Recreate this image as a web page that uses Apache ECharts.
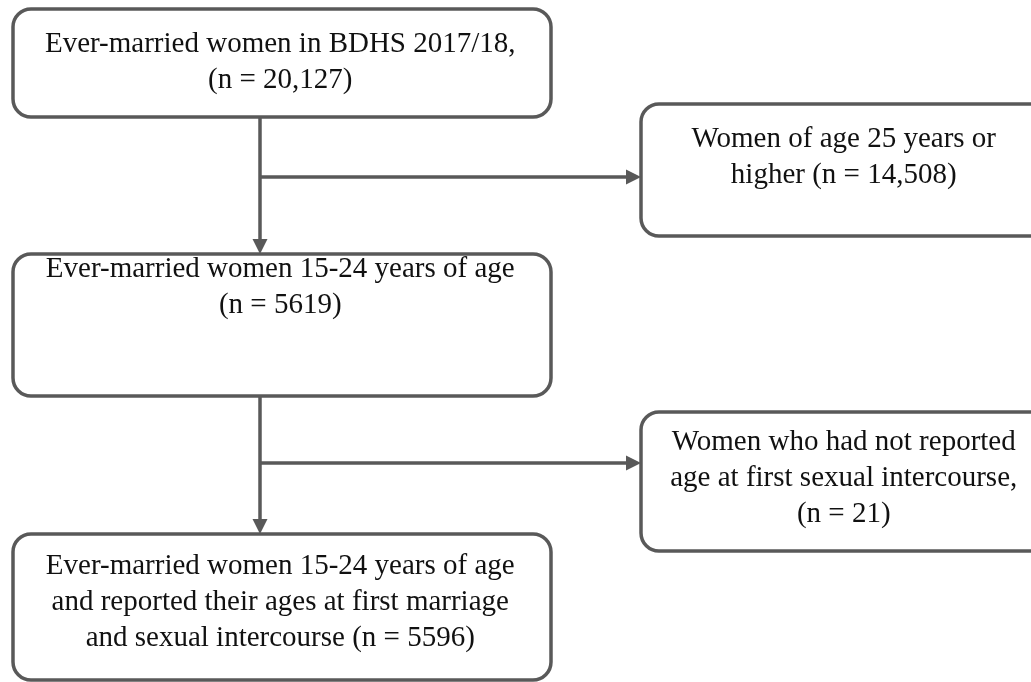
<!DOCTYPE html>
<html>
<head>
<meta charset="utf-8">
<script src="https://cdn.jsdelivr.net/npm/echarts@6/dist/echarts.min.js"></script>
<style>
    html, body { margin: 0; padding: 0; background: #fff; }
    #chart { width: 1031px; height: 682px; }
</style>
</head>
<body>
<div id="chart"></div>
<script>
    // box texts, main column and the two exclusion boxes
    const boxTexts = [
        'Ever-married women in BDHS 2017/18,\n(n = 20,127)',
        'Women of age 25 years or\nhigher (n = 14,508)',
        'Ever-married women 15-24 years of age\n(n = 5619)',
        'Women who had not reported\nage at first sexual intercourse,\n(n = 21)',
        'Ever-married women 15-24 years of age\nand reported their ages at first marriage\nand sexual intercourse (n = 5596)'
    ];
    // [left, top, right, bottom, text middle] in page pixels
    const boxLayout = [
        [13, 9, 551, 117, 64],
        [641, 104, 1050, 236, 159],
        [13, 254, 551, 396, 289],
        [641, 412, 1050, 551, 480],
        [13, 534, 551, 680, 604]
    ];
    // arrows [x1, y1, x2, y2], tip at the end
    const arrowPaths = [
        [260, 117, 260, 254],
        [260, 177, 641, 177],
        [260, 396, 260, 534],
        [260, 463, 641, 463]
    ];

    const lineColor = '#595959';

    function renderBox (params, api) {
        let b = boxLayout[params.dataIndex];
        let p0 = api.coord([b[0], b[1]]);
        let p1 = api.coord([b[2], b[3]]);
        let ty = api.coord([0, b[4]])[1];
        return {
            type: 'rect',
            shape: { x: p0[0], y: p0[1], width: p1[0] - p0[0], height: p1[1] - p0[1], r: 18 },
            style: { fill: '#fff', stroke: lineColor, lineWidth: 3.5 },
            textContent: {
                style: {
                    text: boxTexts[params.dataIndex],
                    font: '29px "Liberation Serif"',
                    fill: '#111',
                    align: 'center',
                    verticalAlign: 'middle',
                    lineHeight: 36
                }
            },
            textConfig: { position: [(p1[0] - p0[0]) / 2, ty - p0[1]] }
        };
    }

    function renderArrow (params, api) {
        let a = arrowPaths[params.dataIndex];
        let s = api.coord([a[0], a[1]]);
        let e = api.coord([a[2], a[3]]);
        let len = Math.hypot(e[0] - s[0], e[1] - s[1]);
        let ux = (e[0] - s[0]) / len, uy = (e[1] - s[1]) / len;
        let hl = 15, hw = 7.5;
        let bx = e[0] - ux * hl, by = e[1] - uy * hl;
        return {
            type: 'group',
            children: [
                {
                    type: 'line',
                    shape: { x1: s[0], y1: s[1], x2: bx + ux, y2: by + uy },
                    style: { stroke: lineColor, lineWidth: 3.5 }
                },
                {
                    type: 'polygon',
                    shape: { points: [[e[0], e[1]], [bx - uy * hw, by + ux * hw], [bx + uy * hw, by - ux * hw]] },
                    style: { fill: lineColor }
                }
            ]
        };
    }

    let chart = echarts.init(document.getElementById('chart'));
    let option = {
        animation: false,
        grid: { left: 0, right: 0, top: 0, bottom: 0 },
        xAxis: { type: 'value', min: 0, max: 1031, show: false },
        yAxis: { type: 'value', min: 0, max: 682, inverse: true, show: false },
        series: [
            {
                type: 'custom',
                renderItem: renderArrow,
                data: arrowPaths.map(function (a) { return [a[0], a[1]]; }),
                silent: true
            },
            {
                type: 'custom',
                renderItem: renderBox,
                data: boxLayout.map(function (b) { return [b[0], b[1]]; }),
                silent: true
            }
        ]
    };
    chart.setOption(option);
</script>
</body>
</html>
